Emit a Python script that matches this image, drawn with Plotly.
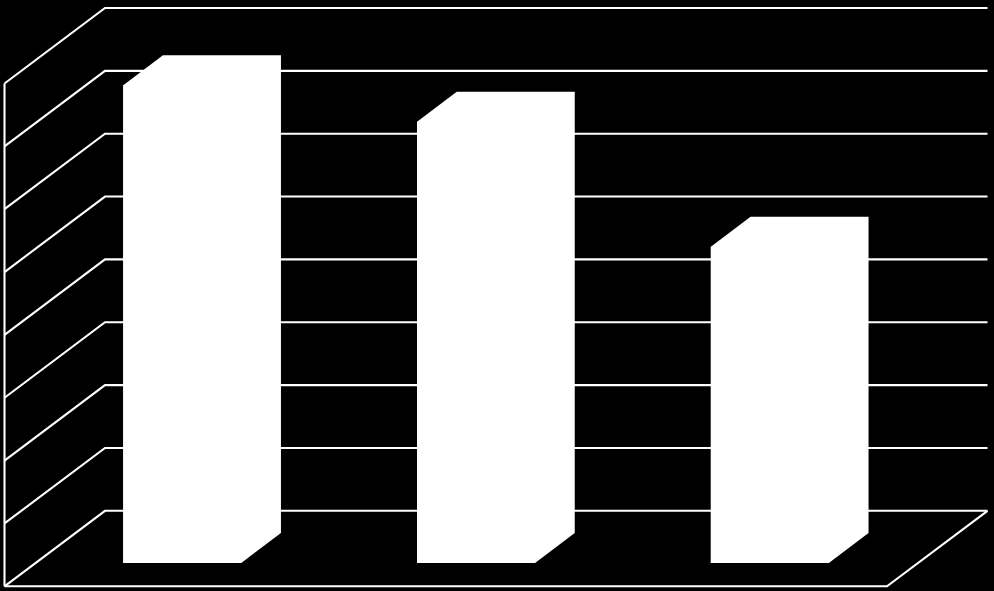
import plotly.graph_objects as go

# Data (bar heights in gridline units)
categories = [1, 2, 3]
values = [7.6, 7.02, 5.03]
grid_levels = [0, 1, 2, 3, 4, 5, 6, 7, 8]

WHITE = "#ffffff"
PX_X = 293.8    # pixels per category
PX_Y = 62.85    # pixels per gridline unit
W, H = 994, 591
X0_PX, Y0_PX = 182.25, 586.3   # pixel position of category 1 centre, value 0
LINE_W = 2.1

# Depth of the 3-D box and of the bars (axis units)
BOX_DX, BOX_DY = 100.5 / PX_X, 75.5 / PX_Y
BAR_DX, BAR_DY = 39.7 / PX_X, 30.0 / PX_Y
BAR_W = 118.0 / PX_X
BAR_BASE = 23.3 / PX_Y
FRONT_L = 1 + (4.5 - X0_PX) / PX_X
FRONT_R = 1 + (887.0 - X0_PX) / PX_X

fig = go.Figure()

# Front faces
fig.add_trace(go.Bar(
    x=categories, y=values, base=[BAR_BASE] * len(values), width=BAR_W,
    marker=dict(color=WHITE, line=dict(width=0)), showlegend=False,
))

# Whole bar silhouette: front, top and side faces
for c, v in zip(categories, values):
    l, r = c - BAR_W / 2, c + BAR_W / 2
    b, t = BAR_BASE, BAR_BASE + v
    fig.add_trace(go.Scatter(
        x=[l, l + BAR_DX, r + BAR_DX, r + BAR_DX, r, l, l],
        y=[t, t + BAR_DY, t + BAR_DY, b + BAR_DY, b, b, t],
        mode="lines", fill="toself", fillcolor=WHITE,
        line=dict(width=0, color=WHITE), showlegend=False,
    ))

# Gridlines wrapping from the side wall to the back wall
for lv in grid_levels:
    fig.add_trace(go.Scatter(
        x=[FRONT_L, FRONT_L + BOX_DX, FRONT_R + BOX_DX],
        y=[lv, lv + BOX_DY, lv + BOX_DY],
        mode="lines", line=dict(color=WHITE, width=LINE_W), showlegend=False,
    ))

# Value axis and floor edges
fig.add_trace(go.Scatter(
    x=[FRONT_L, FRONT_L], y=[grid_levels[0], grid_levels[-1]],
    mode="lines", line=dict(color=WHITE, width=LINE_W), showlegend=False,
))
fig.add_trace(go.Scatter(
    x=[FRONT_L, FRONT_R, FRONT_R + BOX_DX],
    y=[0, 0, BOX_DY],
    mode="lines", line=dict(color=WHITE, width=LINE_W), showlegend=False,
))

fig.update_layout(
    width=W, height=H, autosize=False,
    margin=dict(l=0, r=0, t=0, b=0),
    paper_bgcolor="#000000", plot_bgcolor="#000000",
    xaxis=dict(range=[1 - X0_PX / PX_X, 1 + (W - X0_PX) / PX_X], visible=False),
    yaxis=dict(range=[-(H - Y0_PX) / PX_Y, Y0_PX / PX_Y], visible=False),
    showlegend=False,
)
fig.write_html(
    "out.html",
    config={"displayModeBar": False},
    post_script="document.body.style.margin='0';document.body.style.background='#000';"
                "document.documentElement.style.overflow='hidden';",
)
